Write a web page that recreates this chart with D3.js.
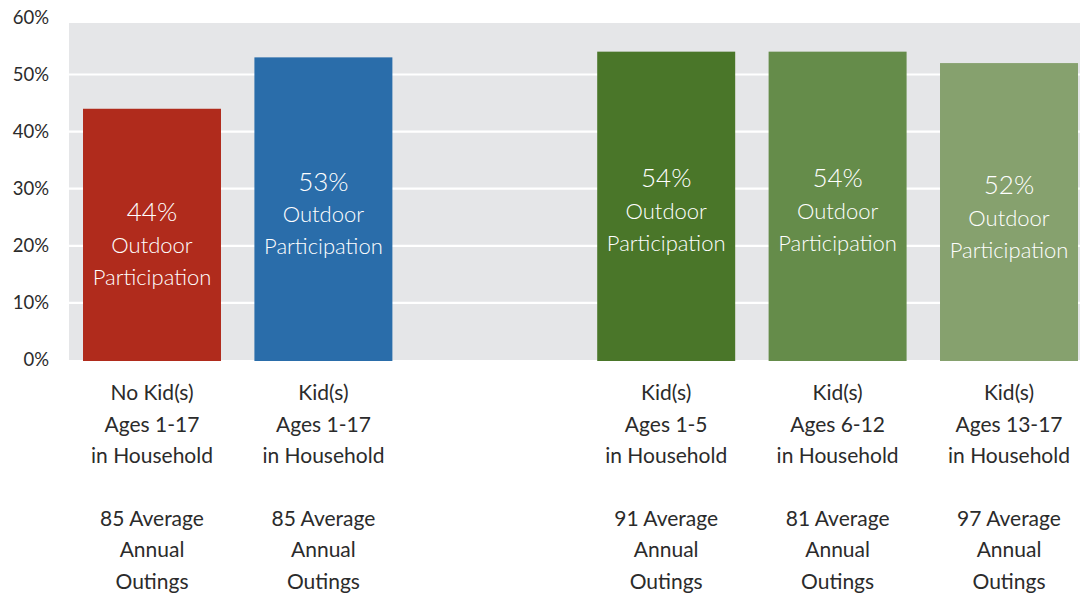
<!DOCTYPE html>
<html>
<head>
<meta charset="utf-8">
<script src="https://cdn.jsdelivr.net/npm/d3@7"></script>
<style>
  html, body { margin: 0; padding: 0; background: #ffffff; }
  svg { display: block; font-family: Lato, "Open Sans", sans-serif; }
</style>
</head>
<body>
<svg id="chart" width="1080" height="594"></svg>
<script>
// ---- data ----
const categories = ["no-kids", "kids-1-17", "gap", "kids-1-5", "kids-6-12", "kids-13-17"];
const participation = [44, 53, null, 54, 54, 52];
const outings = [85, 85, null, 91, 81, 97];
const categoryLines = [
  ["No Kid(s)", "Ages 1-17", "in Household"],
  ["Kid(s)", "Ages 1-17", "in Household"],
  [],
  ["Kid(s)", "Ages 1-5", "in Household"],
  ["Kid(s)", "Ages 6-12", "in Household"],
  ["Kid(s)", "Ages 13-17", "in Household"]
];
const barColors = ["#B02B1C", "#2A6DAA", null, "#4A7629", "#658C4A", "#86A16E"];
const yTicks = [0, 10, 20, 30, 40, 50, 60];

// ---- layout ----
const svg = d3.select("#chart");
const plotLeft = 69, plotRight = 1080, plotTop = 23;
const x = d3.scaleBand().domain(categories).range([66.3, 1094.7])
  .paddingInner(0.195).paddingOuter(0.0975);
const y = d3.scaleLinear().domain([0, 60]).range([360, 17.4]);

// background
svg.append("rect").attr("x", plotLeft).attr("y", plotTop)
  .attr("width", plotRight - plotLeft).attr("height", y(0) - plotTop)
  .attr("fill", "#E5E6E8");

// gridlines
svg.append("g").selectAll("line").data(yTicks.filter(t => t > 0 && t < 60)).join("line")
  .attr("x1", plotLeft).attr("x2", plotRight)
  .attr("y1", d => y(d)).attr("y2", d => y(d))
  .attr("stroke", "#ffffff").attr("stroke-width", 2.2);

// y axis
const yAxis = d3.axisLeft(y).tickValues(yTicks).tickFormat(d => d + "%").tickSize(0).tickPadding(0);
const gy = svg.append("g").attr("transform", "translate(49,0)").call(yAxis);
gy.select(".domain").remove();
gy.selectAll("text").attr("font-size", 18.5).attr("fill", "#2b2b2b")
  .attr("font-family", "Lato, sans-serif");

// bars
const rows = categories.map((c, i) => ({ c, v: participation[i], o: outings[i], lines: categoryLines[i], color: barColors[i] }))
  .filter(d => d.v !== null);

svg.append("g").selectAll("rect").data(rows).join("rect")
  .attr("x", d => x(d.c)).attr("width", x.bandwidth())
  .attr("y", d => y(d.v)).attr("height", d => y(0) - y(d.v) + 1)
  .attr("fill", d => d.color);

// in-bar labels
const inLab = svg.append("g").selectAll("g").data(rows).join("g")
  .attr("transform", d => {
    const h = y(0) - y(d.v);
    return `translate(${x(d.c) + x.bandwidth() / 2},${y(d.v) + 0.41 * h})`;
  });
inLab.append("text").attr("text-anchor", "middle").attr("dy", "0.36em")
  .attr("fill", "#fff").attr("font-size", 26).attr("font-weight", 300)
  .text(d => d.v + "%");
inLab.append("text").attr("text-anchor", "middle").attr("y", 33).attr("dy", "0.36em")
  .attr("fill", "#fff").attr("font-size", 22).attr("font-weight", 300)
  .text("Outdoor");
inLab.append("text").attr("text-anchor", "middle").attr("y", 65).attr("dy", "0.36em")
  .attr("fill", "#fff").attr("font-size", 22).attr("font-weight", 300)
  .text("Participation");

// category labels
const catG = svg.append("g").selectAll("g").data(rows).join("g")
  .attr("transform", d => `translate(${x(d.c) + x.bandwidth() / 2},0)`);
catG.each(function (d) {
  const g = d3.select(this);
  const lines = d.lines.concat(["", d.o + " Average", "Annual", "Outings"]);
  const ys = [392, 424, 455, null, 518, 549, 581];
  lines.forEach((t, i) => {
    if (!t) return;
    g.append("text").attr("text-anchor", "middle").attr("y", ys[i]).attr("dy", "0.36em")
      .attr("font-size", 21).attr("fill", "#2b2b2b").text(t);
  });
});
</script>
</body>
</html>
